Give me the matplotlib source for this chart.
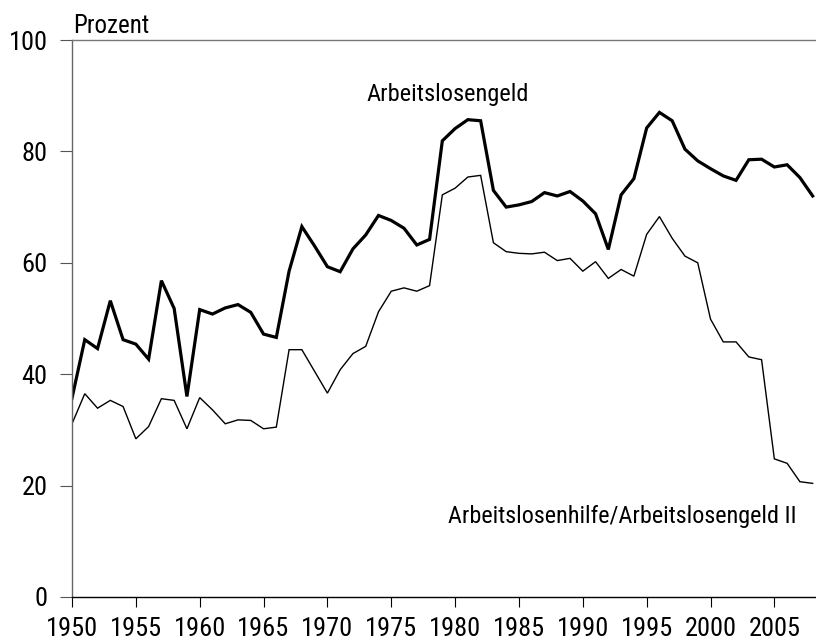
import matplotlib
matplotlib.use("Agg")
import matplotlib.pyplot as plt
from matplotlib import font_manager

years = list(range(1950, 2009))
arbeitslosengeld = [
    35.7, 46.2, 44.6, 53.2, 46.2, 45.4, 42.7, 56.8, 51.8, 36.0,
    51.6, 50.8, 51.9, 52.5, 51.1, 47.2, 46.6, 58.5, 66.5, 63.0,
    59.3, 58.4, 62.5, 65.0, 68.5, 67.6, 66.2, 63.2, 64.2, 81.9,
    84.1, 85.7, 85.5, 73.0, 70.0, 70.4, 71.0, 72.6, 72.0, 72.8,
    71.1, 68.8, 62.4, 72.2, 75.1, 84.2, 87.0, 85.5, 80.4, 78.3,
    76.9, 75.6, 74.8, 78.5, 78.6, 77.2, 77.6, 75.3, 72.0,
]
arbeitslosenhilfe = [
    31.1, 36.5, 33.9, 35.3, 34.2, 28.4, 30.6, 35.6, 35.3, 30.2,
    35.8, 33.6, 31.1, 31.8, 31.7, 30.2, 30.5, 44.4, 44.4, 40.5,
    36.6, 40.8, 43.7, 45.0, 51.2, 54.9, 55.5, 54.9, 55.9, 72.2,
    73.4, 75.4, 75.7, 63.6, 62.0, 61.7, 61.6, 61.9, 60.4, 60.8,
    58.5, 60.2, 57.2, 58.8, 57.6, 65.1, 68.3, 64.4, 61.2, 60.0,
    49.9, 45.8, 45.8, 43.1, 42.6, 24.8, 24.0, 20.7, 20.4,
]
xticks = list(range(1950, 2006, 5))
yticks = [0, 20, 40, 60, 80, 100]

names = {f.name for f in font_manager.fontManager.ttflist}
prefs = ['Liberation Sans Narrow', 'Arial Narrow', 'Nimbus Sans Narrow',
         'Roboto Condensed', 'PT Sans Narrow', 'Archivo Narrow',
         'Barlow Semi Condensed', 'Liberation Sans']
chosen = next(p for p in prefs if p in names)
plt.rcParams['font.family'] = [chosen, 'DejaVu Sans']

W, H = 816, 642
fig = plt.figure(figsize=(W / 100, H / 100), dpi=100)
left = 72 / W
bottom = (H - 597) / H
top = (H - 40) / H
ax = fig.add_axes([left, bottom, 1 - left, top - bottom])

ax.plot(years, arbeitslosenhilfe, color='black', lw=1.0, solid_joinstyle='miter')
ax.plot(years, arbeitslosengeld, color='black', lw=2.3, solid_joinstyle='miter')

ax.set_xlim(1950, 1950 + (W - 72) / 12.77)
ax.set_ylim(0, 100)
ax.set_xticks(xticks)
ax.set_yticks(yticks)
ax.tick_params(axis='both', direction='out', labelsize=19, width=0.8)
ax.tick_params(axis='y', length=9, pad=8.5, color='#555555')
ax.tick_params(axis='x', length=7.5, pad=7)

ax.spines['right'].set_visible(False)
ax.spines['left'].set_color('#666666')
ax.spines['top'].set_color('#777777')
ax.spines['bottom'].set_color('black')
for s in ax.spines.values():
    s.set_linewidth(1.0)

fig.text(73 / W, 1 - 33 / H, 'Prozent', fontsize=18, ha='left', va='baseline')
ax.text(1979.4, 89.0, 'Arbeitslosengeld', fontsize=17.6, ha='center', va='baseline')
ax.text(1979.45, 13.3, 'Arbeitslosenhilfe/Arbeitslosengeld II', fontsize=17.4, ha='left', va='baseline')

fig.savefig('out.png', dpi=100)
